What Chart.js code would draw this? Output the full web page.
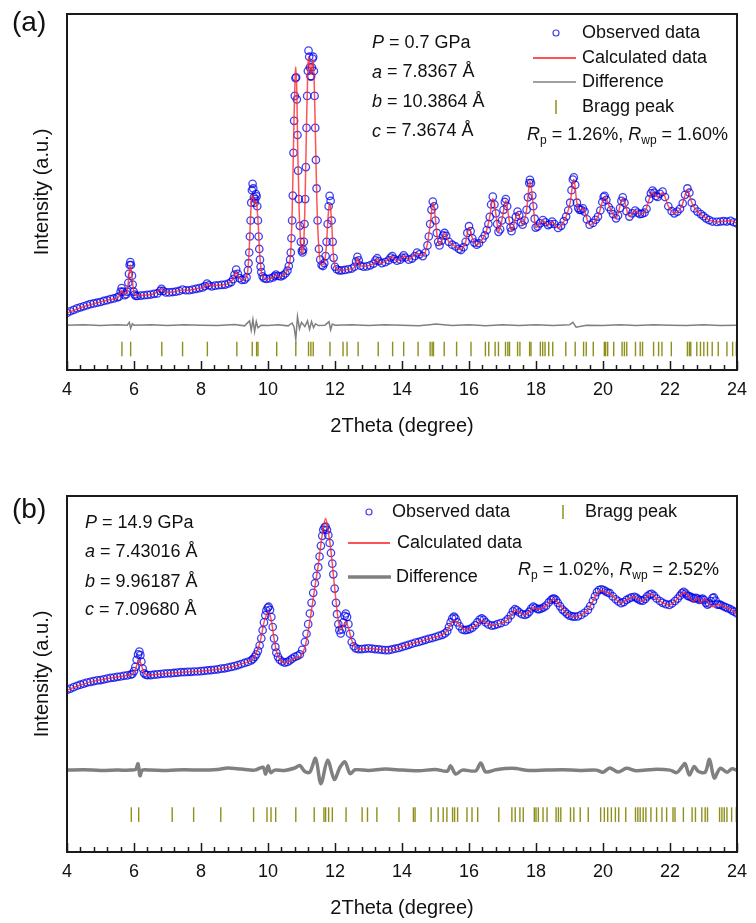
<!DOCTYPE html>
<html>
<head>
<meta charset="utf-8">
<script src="https://cdn.jsdelivr.net/npm/chart.js"></script>
<style>
  body { margin: 0; background: #fff; width: 756px; height: 923px; overflow: hidden; position: relative; }
  .panel { position: absolute; left: 0; width: 756px; height: 441px; }
</style>
</head>
<body>
<div class="panel" style="top:0"><canvas id="graficaA" width="756" height="441"></canvas></div>
<div class="panel" style="top:482px"><canvas id="graficaB" width="756" height="441"></canvas></div>
<script>
// panel (a) P = 0.7 GPa, observed points
const obsThetaA = [
  4.00, 4.10, 4.20, 4.30, 4.40, 4.50, 4.60, 4.70, 4.80, 4.90,
  5.00, 5.10, 5.20, 5.30, 5.40, 5.50, 5.55, 5.60, 5.63, 5.67,
  5.72, 5.77, 5.80, 5.83, 5.85, 5.87, 5.89, 5.91, 5.94, 5.96,
  5.99, 6.02, 6.05, 6.10, 6.20, 6.30, 6.40, 6.50, 6.60, 6.70,
  6.78, 6.82, 6.87, 6.95, 7.05, 7.15, 7.25, 7.35, 7.45, 7.55,
  7.65, 7.75, 7.85, 7.95, 8.05, 8.12, 8.18, 8.24, 8.32, 8.42,
  8.52, 8.62, 8.72, 8.82, 8.90, 8.96, 9.00, 9.05, 9.10, 9.15,
  9.22, 9.30, 9.36, 9.40, 9.42, 9.44, 9.46, 9.48, 9.50, 9.52,
  9.54, 9.56, 9.58, 9.60, 9.62, 9.64, 9.66, 9.68, 9.70, 9.72,
  9.74, 9.76, 9.78, 9.80, 9.84, 9.88, 9.95, 10.05, 10.15, 10.20,
  10.24, 10.30, 10.38, 10.45, 10.52, 10.58, 10.62, 10.66, 10.68, 10.70,
  10.72, 10.74, 10.76, 10.78, 10.80, 10.82, 10.84, 10.86, 10.88, 10.90,
  10.92, 10.95, 10.98, 11.01, 11.03, 11.05, 11.07, 11.09, 11.11, 11.13,
  11.15, 11.17, 11.19, 11.21, 11.23, 11.25, 11.27, 11.29, 11.31, 11.33,
  11.35, 11.37, 11.39, 11.41, 11.43, 11.45, 11.48, 11.52, 11.56, 11.60,
  11.64, 11.68, 11.72, 11.75, 11.78, 11.81, 11.84, 11.87, 11.90, 11.93,
  11.96, 12.00, 12.05, 12.12, 12.20, 12.30, 12.40, 12.50, 12.58, 12.63,
  12.67, 12.71, 12.76, 12.85, 12.95, 13.05, 13.15, 13.21, 13.26, 13.31,
  13.40, 13.50, 13.60, 13.66, 13.71, 13.76, 13.85, 13.95, 14.00, 14.05,
  14.10, 14.20, 14.30, 14.38, 14.45, 14.52, 14.62, 14.70, 14.76, 14.80,
  14.84, 14.88, 14.92, 14.96, 15.00, 15.04, 15.08, 15.12, 15.18, 15.23,
  15.27, 15.32, 15.40, 15.50, 15.60, 15.70, 15.76, 15.84, 15.90, 15.95,
  16.00, 16.05, 16.10, 16.16, 16.23, 16.30, 16.40, 16.47, 16.53, 16.58,
  16.62, 16.66, 16.71, 16.76, 16.80, 16.84, 16.88, 16.93, 16.98, 17.03,
  17.07, 17.10, 17.14, 17.20, 17.24, 17.27, 17.33, 17.40, 17.45, 17.50,
  17.55, 17.60, 17.66, 17.72, 17.76, 17.80, 17.82, 17.85, 17.89, 17.92,
  17.96, 17.99, 18.05, 18.12, 18.21, 18.28, 18.36, 18.42, 18.48, 18.55,
  18.66, 18.75, 18.83, 18.90, 18.96, 19.02, 19.06, 19.10, 19.13, 19.17,
  19.22, 19.26, 19.30, 19.35, 19.40, 19.45, 19.52, 19.60, 19.70, 19.78,
  19.85, 19.92, 19.98, 20.02, 20.05, 20.10, 20.17, 20.24, 20.30, 20.39,
  20.45, 20.51, 20.55, 20.59, 20.64, 20.70, 20.79, 20.87, 20.96, 21.03,
  21.10, 21.17, 21.24, 21.30, 21.38, 21.43, 21.48, 21.53, 21.58, 21.63,
  21.70, 21.78, 21.85, 21.95, 22.05, 22.13, 22.22, 22.30, 22.38, 22.45,
  22.52, 22.58, 22.65, 22.73, 22.82, 22.92, 23.00, 23.08, 23.17, 23.27,
  23.40, 23.50, 23.60, 23.70, 23.81, 23.90, 24.00
];
const obsA = [
  16.0, 16.5, 16.9, 17.3, 17.6, 17.9, 18.2, 18.5, 18.7, 18.9,
  19.1, 19.4, 19.6, 19.9, 20.1, 20.4, 20.6, 22.0, 23.0, 22.0,
  21.0, 21.3, 22.0, 24.5, 27.0, 29.5, 30.3, 29.5, 26.5, 24.0,
  22.0, 21.2, 20.8, 20.8, 20.9, 21.0, 21.1, 21.2, 21.4, 21.5,
  22.2, 22.8, 22.2, 21.8, 21.8, 21.9, 22.0, 22.2, 22.6, 22.4,
  22.4, 22.6, 22.8, 23.0, 23.2, 23.6, 24.3, 23.8, 23.5, 23.7,
  23.8, 23.9, 24.0, 24.3, 24.7, 25.5, 26.8, 28.2, 27.0, 25.8,
  25.3, 25.4, 26.0, 28.0, 30.0, 33.0, 37.5, 42.0, 47.0, 50.5,
  52.3, 51.0, 48.5, 47.0, 48.0, 49.4, 48.8, 46.0, 42.0, 37.5,
  34.0, 31.0, 29.0, 27.5, 26.3, 25.8, 25.6, 25.7, 26.0, 26.4,
  26.8, 26.4, 26.3, 26.6, 27.1, 27.9, 29.2, 31.0, 33.0, 37.0,
  42.0, 49.0, 61.0, 70.0, 77.0, 82.0, 82.2, 76.0, 66.0, 56.0,
  48.0, 40.5, 36.0, 33.5, 33.0, 33.8, 36.0, 41.0, 48.0, 57.0,
  68.0, 77.0, 84.0, 89.7, 88.0, 85.0, 82.5, 82.5, 85.0, 87.5,
  88.0, 84.0, 77.0, 68.0, 59.0, 51.0, 42.0, 34.0, 31.0, 29.5,
  29.2, 30.0, 32.0, 36.0, 41.0, 46.0, 48.9, 47.5, 42.0, 36.0,
  31.5, 29.0, 28.3, 28.0, 28.0, 28.1, 28.3, 28.5, 29.0, 30.5,
  31.8, 30.8, 29.3, 29.0, 29.1, 29.4, 29.9, 30.8, 31.4, 30.6,
  30.0, 30.3, 30.8, 31.6, 32.0, 31.2, 30.7, 31.0, 31.6, 32.2,
  31.6, 31.0, 31.3, 32.0, 33.0, 32.5, 32.0, 33.0, 35.0, 37.5,
  41.0, 45.0, 47.3, 46.0, 42.0, 38.5, 36.0, 35.0, 36.3, 37.8,
  38.5, 37.7, 36.0, 35.2, 34.7, 34.0, 33.7, 34.5, 36.0, 38.5,
  40.4, 39.0, 37.0, 35.8, 35.2, 35.6, 36.8, 37.8, 39.3, 41.0,
  43.0, 46.5, 48.7, 46.5, 44.0, 41.0, 38.8, 39.5, 42.0, 45.0,
  47.2, 48.0, 46.0, 42.0, 40.0, 39.0, 40.5, 43.0, 44.5, 43.5,
  41.5, 40.8, 42.0, 45.0, 48.5, 52.5, 53.4, 52.5, 49.0, 46.0,
  42.5, 40.0, 40.3, 41.2, 42.1, 41.5, 40.7, 41.0, 41.7, 41.0,
  39.9, 40.5, 41.8, 43.1, 44.8, 47.0, 50.5, 53.5, 54.1, 52.0,
  47.0, 45.5, 45.0, 45.0, 45.4, 44.5, 42.3, 40.8, 41.3, 42.2,
  43.1, 44.8, 47.2, 48.6, 48.9, 47.8, 45.8, 44.9, 43.8, 42.6,
  43.4, 45.5, 47.5, 48.5, 47.0, 44.6, 43.1, 44.0, 44.8, 44.2,
  43.8, 43.9, 44.2, 45.3, 48.0, 49.6, 50.4, 49.8, 48.9, 48.6,
  49.5, 50.1, 48.6, 46.0, 44.6, 44.0, 44.5, 45.3, 46.8, 49.2,
  51.0, 49.8, 47.0, 45.4, 44.5, 43.8, 43.2, 42.6, 42.1, 41.7,
  41.6, 41.7, 41.8, 41.7, 41.9, 41.5, 41.2
];
// panel (a) calculated profile
const calcThetaA = [
  4.00, 4.20, 4.40, 4.60, 4.80, 5.00, 5.20, 5.40, 5.55, 5.63,
  5.72, 5.80, 5.85, 5.89, 5.94, 5.99, 6.05, 6.30, 6.60, 6.82,
  6.95, 7.20, 7.45, 7.60, 7.90, 8.10, 8.18, 8.27, 8.50, 8.80,
  8.98, 9.05, 9.13, 9.25, 9.38, 9.44, 9.48, 9.52, 9.56, 9.60,
  9.64, 9.67, 9.71, 9.75, 9.80, 9.88, 10.00, 10.15, 10.24, 10.35,
  10.50, 10.60, 10.68, 10.72, 10.75, 10.78, 10.81, 10.83, 10.86, 10.89,
  10.93, 10.98, 11.03, 11.07, 11.11, 11.15, 11.19, 11.21, 11.25, 11.28,
  11.32, 11.35, 11.38, 11.42, 11.46, 11.52, 11.60, 11.67, 11.74, 11.79,
  11.83, 11.86, 11.90, 11.95, 12.02, 12.15, 12.40, 12.60, 12.67, 12.75,
  13.00, 13.20, 13.26, 13.35, 13.55, 13.70, 13.80, 13.95, 14.05, 14.20,
  14.45, 14.62, 14.75, 14.85, 14.92, 14.98, 15.05, 15.12, 15.27, 15.40,
  15.55, 15.75, 15.90, 16.00, 16.10, 16.23, 16.40, 16.50, 16.62, 16.71,
  16.80, 16.88, 16.98, 17.10, 17.20, 17.27, 17.45, 17.60, 17.72, 17.82,
  17.92, 17.99, 18.21, 18.36, 18.48, 18.66, 18.90, 19.02, 19.13, 19.22,
  19.30, 19.40, 19.60, 19.85, 20.05, 20.24, 20.39, 20.59, 20.79, 20.96,
  21.10, 21.24, 21.38, 21.48, 21.63, 21.78, 21.95, 22.13, 22.35, 22.52,
  22.65, 22.82, 23.00, 23.17, 23.40, 23.60, 23.81, 24.00
];
const calcA = [
  16.0, 16.8, 17.5, 18.1, 18.6, 19.1, 19.6, 20.0, 20.6, 22.4,
  21.2, 22.3, 26.5, 29.5, 26.2, 22.2, 20.9, 21.0, 21.4, 22.6,
  21.8, 22.0, 22.5, 22.4, 22.9, 23.3, 24.2, 23.6, 23.8, 24.2,
  25.8, 27.6, 26.0, 25.2, 26.8, 34.0, 43.0, 49.0, 48.5, 46.5,
  47.5, 46.0, 40.5, 33.0, 27.8, 25.8, 25.6, 26.0, 26.6, 26.2,
  27.0, 28.6, 33.5, 44.0, 57.0, 72.0, 82.5, 85.2, 78.0, 61.0,
  45.0, 35.5, 32.5, 36.5, 49.0, 69.0, 85.0, 88.0, 85.5, 83.0,
  86.0, 87.0, 80.5, 64.0, 47.0, 34.0, 29.5, 29.8, 34.5, 42.5,
  46.5, 46.0, 41.5, 32.5, 28.6, 28.0, 28.3, 29.0, 31.4, 29.2,
  29.3, 30.3, 31.2, 30.0, 30.7, 31.8, 30.8, 31.0, 32.0, 31.0,
  32.8, 32.0, 35.0, 41.5, 47.0, 44.0, 37.5, 35.0, 38.2, 36.0,
  35.0, 33.8, 36.0, 40.0, 37.0, 35.2, 36.8, 38.5, 43.0, 48.2,
  44.0, 38.8, 42.0, 47.6, 42.0, 39.0, 44.2, 40.8, 45.0, 53.0,
  46.0, 40.0, 42.0, 40.7, 41.5, 39.9, 43.1, 47.0, 53.6, 47.0,
  45.0, 45.4, 40.8, 43.1, 48.5, 44.9, 42.6, 48.2, 43.1, 44.8,
  43.8, 44.2, 48.0, 50.0, 48.6, 49.8, 46.0, 44.0, 46.0, 50.6,
  47.0, 44.5, 43.2, 42.1, 41.6, 41.8, 41.9, 41.2
];
const diffThetaA = [
  4.0, 4.5, 5.0, 5.5, 5.8, 5.86, 5.9, 5.95, 6.0, 6.5,
  7.0, 7.5, 8.0, 8.5, 9.0, 9.3, 9.45, 9.5, 9.55, 9.6,
  9.65, 9.7, 9.8, 10.0, 10.3, 10.6, 10.72, 10.78, 10.83, 10.88,
  10.94, 11.0, 11.1, 11.18, 11.24, 11.3, 11.36, 11.42, 11.5, 11.7,
  11.82, 11.87, 11.92, 12.0, 12.5, 13.0, 13.5, 14.0, 14.5, 14.9,
  15.0, 15.5, 16.0, 16.5, 17.0, 17.5, 18.0, 18.5, 19.0, 19.1,
  19.2, 19.5, 20.0, 20.5, 21.0, 21.5, 22.0, 22.5, 23.0, 23.5, 24.0
];
const diffA = [
  12.6, 12.7, 12.5, 12.7, 12.6, 13.4, 11.7, 13.0, 12.6, 12.7,
  12.5, 12.7, 12.6, 12.5, 12.8, 12.4, 13.8, 11.2, 14.2, 10.8,
  13.6, 11.9, 12.6, 12.5, 12.7, 12.4, 13.2, 12.0, 8.6, 15.0,
  11.6, 13.4, 12.2, 13.8, 11.4, 13.6, 11.9, 13.0, 12.5, 12.6,
  13.6, 11.3, 12.9, 12.6, 12.7, 12.5, 12.7, 12.6, 12.4, 12.8,
  12.9, 12.5, 12.7, 12.4, 12.7, 12.5, 12.7, 12.5, 12.7, 13.4,
  12.0, 12.6, 12.5, 12.7, 12.5, 12.7, 12.6, 12.5, 12.7, 12.5, 12.6
];
const braggA = [
  5.64, 5.90, 6.83, 7.45, 8.19, 9.07, 9.53, 9.66, 9.70, 10.26,
  10.83, 11.21, 11.28, 11.35, 11.85, 12.24, 12.36, 12.69, 13.29, 13.72,
  14.05, 14.48, 14.84, 14.90, 14.94, 15.26, 15.63, 16.06, 16.49, 16.59,
  16.78, 16.88, 17.09, 17.16, 17.21, 17.45, 17.52, 17.81, 17.85, 18.13,
  18.20, 18.27, 18.38, 18.50, 18.89, 19.17, 19.42, 19.50, 19.71, 20.04,
  20.08, 20.14, 20.32, 20.57, 20.64, 20.71, 20.97, 21.11, 21.18, 21.51,
  21.66, 21.76, 22.04, 22.52, 22.58, 22.62, 22.80, 22.91, 23.01, 23.12,
  23.26, 23.44, 23.70, 23.87, 23.98
];

// panel (b) P = 14.9 GPa, observed points
const obsThetaB = [
  4.00, 4.10, 4.20, 4.30, 4.40, 4.50, 4.60, 4.70, 4.80, 4.90,
  5.00, 5.10, 5.20, 5.30, 5.40, 5.50, 5.60, 5.70, 5.80, 5.90,
  5.95, 6.00, 6.04, 6.08, 6.12, 6.16, 6.19, 6.22, 6.26, 6.30,
  6.35, 6.40, 6.50, 6.60, 6.70, 6.80, 6.90, 7.00, 7.10, 7.20,
  7.30, 7.40, 7.50, 7.60, 7.70, 7.80, 7.90, 8.00, 8.10, 8.20,
  8.30, 8.40, 8.50, 8.60, 8.70, 8.80, 8.90, 9.00, 9.10, 9.20,
  9.30, 9.40, 9.50, 9.55, 9.60, 9.65, 9.70, 9.75, 9.80, 9.84,
  9.88, 9.92, 9.95, 9.99, 10.02, 10.06, 10.10, 10.14, 10.18, 10.22,
  10.25, 10.30, 10.35, 10.42, 10.50, 10.58, 10.65, 10.72, 10.80, 10.88,
  10.95, 11.02, 11.10, 11.15, 11.20, 11.25, 11.30, 11.35, 11.40, 11.45,
  11.50, 11.54, 11.58, 11.62, 11.65, 11.69, 11.72, 11.76, 11.80, 11.84,
  11.88, 11.92, 11.95, 11.99, 12.03, 12.06, 12.10, 12.13, 12.17, 12.21,
  12.25, 12.29, 12.32, 12.36, 12.40, 12.45, 12.50, 12.56, 12.62, 12.70,
  12.80, 12.90, 13.00, 13.10, 13.20, 13.30, 13.40, 13.50, 13.60, 13.70,
  13.80, 13.90, 14.00, 14.10, 14.20, 14.30, 14.40, 14.50, 14.60, 14.70,
  14.80, 14.90, 15.00, 15.10, 15.20, 15.28, 15.35, 15.40, 15.45, 15.50,
  15.55, 15.60, 15.65, 15.72, 15.80, 15.87, 15.94, 16.02, 16.10, 16.18,
  16.25, 16.32, 16.38, 16.44, 16.50, 16.58, 16.68, 16.76, 16.85, 16.95,
  17.08, 17.16, 17.25, 17.31, 17.37, 17.43, 17.50, 17.58, 17.67, 17.74,
  17.80, 17.86, 17.92, 17.98, 18.05, 18.10, 18.16, 18.23, 18.30, 18.38,
  18.45, 18.50, 18.54, 18.60, 18.65, 18.72, 18.79, 18.86, 18.93, 19.00,
  19.08, 19.15, 19.25, 19.35, 19.45, 19.55, 19.62, 19.70, 19.76, 19.82,
  19.88, 19.95, 20.02, 20.08, 20.14, 20.20, 20.29, 20.38, 20.46, 20.54,
  20.62, 20.70, 20.78, 20.85, 20.94, 21.00, 21.05, 21.12, 21.19, 21.26,
  21.32, 21.39, 21.45, 21.52, 21.60, 21.70, 21.78, 21.88, 21.98, 22.06,
  22.15, 22.23, 22.30, 22.36, 22.41, 22.47, 22.52, 22.57, 22.62, 22.67,
  22.72, 22.77, 22.82, 22.87, 22.92, 22.97, 23.02, 23.07, 23.12, 23.17,
  23.22, 23.27, 23.31, 23.36, 23.42, 23.47, 23.51, 23.58, 23.65, 23.72,
  23.80, 23.86, 23.92, 24.00
];
const obsB = [
  45.5, 45.9, 46.3, 46.7, 47.0, 47.3, 47.6, 47.8, 48.0, 48.2,
  48.3, 48.5, 48.7, 48.9, 49.0, 49.2, 49.3, 49.5, 49.6, 49.8,
  50.0, 50.8, 52.0, 54.0, 55.5, 56.3, 55.3, 53.5, 51.5, 50.2,
  49.8, 49.7, 49.7, 49.8, 49.9, 50.0, 50.1, 50.2, 50.2, 50.3,
  50.4, 50.5, 50.5, 50.6, 50.6, 50.7, 50.7, 50.8, 50.9, 51.0,
  51.1, 51.2, 51.3, 51.5, 51.6, 51.8, 52.0, 52.2, 52.5, 52.8,
  53.1, 53.4, 53.8, 54.2, 54.8, 55.5, 56.5, 58.0, 60.0, 62.3,
  64.5, 66.5, 67.8, 68.6, 68.9, 68.0, 66.0, 63.2, 60.0, 57.6,
  56.0, 54.8, 54.0, 53.5, 53.2, 53.4, 53.8, 54.3, 54.8, 55.1,
  55.5, 56.8, 59.0, 61.3, 64.0, 67.0, 70.0, 72.8, 75.5, 77.6,
  80.0, 83.0, 86.0, 88.8, 90.5, 91.2, 91.4, 90.5, 89.0, 86.8,
  84.0, 81.0, 78.0, 74.0, 70.0, 66.8, 64.0, 62.3, 61.4, 62.5,
  64.5, 66.3, 67.0, 66.0, 64.0, 61.3, 59.0, 57.8, 57.2, 57.0,
  57.0, 57.1, 57.2, 57.1, 57.0, 56.9, 56.8, 56.7, 56.7, 56.9,
  57.1, 57.3, 57.6, 57.9, 58.2, 58.5, 58.8, 59.0, 59.3, 59.6,
  59.9, 60.1, 60.4, 60.7, 61.0, 61.4, 62.0, 63.2, 64.5, 65.6,
  66.1, 65.6, 64.5, 63.4, 62.5, 62.3, 62.4, 62.6, 63.0, 63.7,
  64.5, 65.3, 65.6, 65.2, 64.5, 63.9, 63.6, 63.7, 64.0, 64.3,
  64.7, 65.4, 66.5, 67.6, 68.2, 67.9, 67.3, 66.8, 66.6, 66.9,
  67.5, 68.4, 68.9, 68.6, 68.2, 68.2, 68.4, 68.7, 69.2, 70.1,
  70.8, 71.1, 71.2, 70.8, 70.0, 69.0, 68.1, 67.5, 66.9, 66.4,
  66.2, 66.1, 66.2, 66.6, 67.2, 68.0, 69.1, 70.5, 71.8, 73.0,
  73.6, 73.8, 73.6, 73.2, 72.9, 72.7, 71.8, 71.0, 70.4, 69.9,
  70.2, 70.8, 71.2, 71.5, 71.7, 71.4, 71.0, 70.7, 70.6, 71.1,
  71.8, 72.3, 72.5, 72.0, 71.2, 70.5, 70.0, 69.6, 69.4, 69.8,
  70.5, 71.2, 72.0, 72.7, 73.1, 72.6, 72.0, 71.8, 71.7, 71.4,
  71.2, 71.4, 71.2, 70.8, 71.0, 71.2, 70.8, 70.0, 69.5, 69.8,
  70.5, 71.3, 71.5, 70.6, 69.5, 69.5, 69.4, 69.1, 68.8, 68.5,
  68.2, 67.8, 67.5, 67.0
];
// panel (b) calculated profile
const calcThetaB = [
  4.00, 4.20, 4.40, 4.60, 4.80, 5.00, 5.20, 5.40, 5.60, 5.80,
  5.95, 6.05, 6.12, 6.16, 6.22, 6.30, 6.40, 6.60, 6.80, 7.00,
  7.20, 7.40, 7.60, 7.80, 8.00, 8.20, 8.40, 8.60, 8.80, 9.00,
  9.20, 9.40, 9.55, 9.70, 9.80, 9.88, 9.95, 10.02, 10.10, 10.18,
  10.25, 10.35, 10.50, 10.65, 10.80, 10.95, 11.10, 11.20, 11.30, 11.40,
  11.50, 11.58, 11.65, 11.72, 11.80, 11.88, 11.95, 12.03, 12.10, 12.17,
  12.25, 12.32, 12.40, 12.50, 12.62, 12.80, 13.00, 13.20, 13.40, 13.60,
  13.80, 14.00, 14.20, 14.40, 14.60, 14.80, 15.00, 15.20, 15.35, 15.45,
  15.55, 15.65, 15.80, 15.94, 16.10, 16.25, 16.38, 16.50, 16.68, 16.85,
  17.08, 17.25, 17.37, 17.50, 17.67, 17.80, 17.92, 18.05, 18.16, 18.30,
  18.45, 18.54, 18.65, 18.86, 19.00, 19.15, 19.35, 19.55, 19.70, 19.82,
  19.95, 20.08, 20.20, 20.38, 20.54, 20.70, 20.85, 20.94, 21.05, 21.19,
  21.32, 21.45, 21.60, 21.78, 21.98, 22.15, 22.30, 22.41, 22.52, 22.62,
  22.72, 22.82, 22.92, 23.02, 23.12, 23.22, 23.31, 23.42, 23.51, 23.65,
  23.80, 23.92, 24.00
];
const calcB = [
  45.4, 46.2, 46.9, 47.5, 48.0, 48.4, 48.7, 49.0, 49.3, 49.6,
  50.0, 51.5, 53.5, 54.0, 52.5, 50.4, 49.8, 49.8, 50.0, 50.2,
  50.3, 50.5, 50.6, 50.7, 50.8, 51.0, 51.2, 51.5, 51.8, 52.2,
  52.8, 53.4, 54.3, 57.0, 60.5, 64.5, 66.5, 67.5, 65.0, 60.0,
  56.5, 54.2, 53.2, 53.6, 54.4, 54.8, 57.5, 62.0, 68.0, 74.5,
  80.5, 86.5, 91.0, 93.7, 90.0, 84.5, 78.0, 70.5, 65.0, 62.5,
  63.5, 64.7, 63.0, 59.5, 57.4, 57.0, 57.2, 57.0, 56.8, 56.7,
  57.1, 57.6, 58.2, 58.8, 59.3, 59.9, 60.4, 61.0, 62.2, 64.0,
  65.0, 64.5, 62.8, 62.4, 63.0, 64.0, 64.8, 64.5, 63.6, 64.0,
  64.7, 66.3, 68.0, 67.3, 66.6, 67.5, 68.6, 68.2, 68.4, 69.2,
  70.6, 71.0, 70.0, 67.5, 66.4, 66.1, 66.6, 68.0, 70.5, 72.6,
  73.4, 73.0, 72.7, 71.0, 69.9, 70.8, 71.5, 71.6, 71.0, 70.6,
  71.8, 72.4, 71.2, 70.0, 69.4, 70.5, 72.0, 73.0, 72.2, 71.0,
  70.5, 71.5, 70.0, 71.0, 70.5, 69.0, 68.9, 69.5, 69.4, 68.8,
  68.2, 67.5, 67.0
];
const diffThetaB = [
  4.0, 4.5, 5.0, 5.5, 5.9, 6.05, 6.12, 6.18, 6.25, 6.5,
  7.0, 7.5, 8.0, 8.5, 8.8, 9.2, 9.6, 9.85, 9.93, 10.0,
  10.08, 10.2, 10.5, 10.8, 10.95, 11.1, 11.25, 11.42, 11.58, 11.78,
  11.98, 12.15, 12.3, 12.45, 12.6, 13.0, 13.5, 14.0, 14.5, 15.0,
  15.35, 15.45, 15.6, 15.8, 16.2, 16.35, 16.5, 16.8, 17.3, 17.8,
  18.3, 18.8, 19.3, 19.8, 20.0, 20.2, 20.45, 20.7, 21.0, 21.5,
  22.0, 22.2, 22.35, 22.45, 22.58, 22.72, 22.85, 23.05, 23.18, 23.32,
  23.5, 23.7, 23.85, 24.0
];
const diffB = [
  23.0, 23.1, 22.9, 23.0, 23.0, 23.2, 24.8, 21.4, 23.0, 23.0,
  22.9, 23.1, 23.0, 23.2, 23.6, 23.3, 23.0, 23.8, 21.9, 24.2,
  22.3, 23.0, 22.9, 23.6, 24.3, 22.6, 22.4, 26.3, 19.2, 25.8,
  20.4, 23.8, 25.3, 22.0, 23.1, 22.9, 23.3, 23.0, 22.8, 23.2,
  22.7, 24.2, 21.9, 23.0, 22.8, 25.0, 22.5, 23.1, 23.5, 22.9,
  23.0, 23.1, 22.9, 23.0, 22.4, 23.6, 22.5, 23.5, 22.8, 23.2,
  23.0, 22.3, 23.8, 24.8, 21.6, 24.0, 22.6, 22.4, 26.0, 20.8,
  23.5, 22.4, 23.4, 22.9
];
const braggB = [
  5.92, 6.14, 7.14, 7.78, 8.59, 9.57, 9.97, 10.09, 10.23, 10.83,
  11.38, 11.67, 11.72, 11.81, 11.92, 12.33, 12.81, 12.97, 13.25, 13.91,
  14.34, 14.39, 14.87, 15.08, 15.23, 15.34, 15.51, 15.57, 15.66, 15.94,
  16.09, 16.26, 16.89, 17.28, 17.38, 17.52, 17.62, 17.95, 18.00, 18.07,
  18.21, 18.33, 18.60, 18.67, 18.74, 19.03, 19.13, 19.32, 19.56, 19.93,
  20.04, 20.14, 20.25, 20.37, 20.47, 20.68, 20.97, 21.04, 21.11, 21.20,
  21.28, 21.43, 21.60, 21.76, 21.90, 22.09, 22.15, 22.40, 22.66, 22.76,
  22.95, 23.05, 23.12, 23.48, 23.55, 23.62, 23.70, 23.84, 23.98
];

const xTicks = [4, 6, 8, 10, 12, 14, 16, 18, 20, 22, 24];

const FONT = '"Liberation Sans", Arial, sans-serif';
const TXT = '#111';
const BLUE = 'rgba(0, 0, 235, 0.75)';
const RED = 'rgba(255, 40, 40, 0.8)';
const GREY = '#808080';
const OLIVE = '#8f8f1c';

Chart.defaults.font.family = FONT;
Chart.defaults.color = TXT;

const pts = (xs, ys) => xs.map((x, i) => ({ x: x, y: ys[i] }));

function richText(ctx, x, y, parts) {
    let cx = x;
    parts.forEach(([t, s]) => {
        ctx.font = s === 'i' ? 'italic 18px ' + FONT : s === 's' ? '12px ' + FONT : '18px ' + FONT;
        ctx.fillText(t, cx, s === 's' ? y + 6 : y);
        cx += ctx.measureText(t).width;
    });
}

// frame, inward ticks and the text inside the plot
function decorations(p) {
    return {
        id: 'decor' + p.name,
        afterDatasetsDraw(chart) {
            const ctx = chart.ctx;
            const a = chart.chartArea;
            const xs = chart.scales.x;
            ctx.save();
            ctx.strokeStyle = '#1a1a1a';
            ctx.lineWidth = 2;
            ctx.strokeRect(a.left, a.top, a.right - a.left, a.bottom - a.top);
            ctx.lineWidth = 1.5;
            for (let i = 0; i <= 50; i++) {
                const px = Math.round(xs.getPixelForValue(4 + i * 0.4)) + 0.5;
                const len = i % 5 === 0 ? 9 : 5;
                ctx.beginPath();
                ctx.moveTo(px, a.bottom);
                ctx.lineTo(px, a.bottom - len);
                ctx.stroke();
            }

            ctx.fillStyle = TXT;
            ctx.textBaseline = 'middle';
            ctx.textAlign = 'left';
            ctx.font = '28px ' + FONT;
            ctx.fillText(p.name, 12, p.labelY);

            p.cell.forEach((row, i) => richText(ctx, p.cellX, p.cellY[i], row));

            const L = p.legend;
            ctx.strokeStyle = BLUE;
            ctx.lineWidth = 1.2;
            ctx.beginPath();
            ctx.arc(L.obs[0], L.obs[1], 3, 0, Math.PI * 2);
            ctx.stroke();
            ctx.strokeStyle = RED;
            ctx.lineWidth = 2;
            ctx.beginPath();
            ctx.moveTo(L.calc[0], L.calc[2]);
            ctx.lineTo(L.calc[1], L.calc[2]);
            ctx.stroke();
            ctx.strokeStyle = GREY;
            ctx.lineWidth = p.diffWidth;
            ctx.beginPath();
            ctx.moveTo(L.diff[0], L.diff[2]);
            ctx.lineTo(L.diff[1], L.diff[2]);
            ctx.stroke();
            ctx.strokeStyle = OLIVE;
            ctx.lineWidth = 1.5;
            ctx.beginPath();
            ctx.moveTo(L.bragg[0], L.bragg[1] - 7);
            ctx.lineTo(L.bragg[0], L.bragg[1] + 7);
            ctx.stroke();
            ctx.font = '18px ' + FONT;
            L.texts.forEach(([t, x, y]) => ctx.fillText(t, x, y));
            richText(ctx, L.r[0], L.r[1], [
                ['R', 'i'], ['p', 's'], [' = ' + p.rp + '%, ', 'n'],
                ['R', 'i'], ['wp', 's'], [' = ' + p.rwp + '%', 'n']
            ]);
            ctx.restore();
        }
    };
}

function makeChart(id, p) {
    new Chart(document.getElementById(id), {
        type: 'scatter',
        data: {
            datasets: [
                {
                    label: 'Calculated data',
                    data: pts(p.calcTheta, p.calc),
                    showLine: true,
                    borderColor: RED,
                    borderWidth: 1.5,
                    cubicInterpolationMode: 'monotone',
                    pointRadius: 0,
                    order: 0
                },
                {
                    label: 'Observed data',
                    data: pts(p.obsTheta, p.obs),
                    showLine: false,
                    pointStyle: 'circle',
                    pointRadius: 3.7,
                    pointBorderWidth: 1.3,
                    pointBorderColor: BLUE,
                    pointBackgroundColor: 'rgba(0,0,0,0)',
                    order: 1
                },
                {
                    label: 'Difference',
                    data: pts(p.diffTheta, p.diff),
                    showLine: true,
                    borderColor: GREY,
                    borderWidth: p.diffWidth,
                    tension: p.diffTension,
                    pointRadius: 0,
                    order: 2
                },
                {
                    label: 'Bragg peak',
                    data: p.bragg.map(x => ({ x: x, y: p.braggLevel })),
                    showLine: false,
                    pointStyle: 'line',
                    rotation: 90,
                    pointRadius: 7.3,
                    pointBorderWidth: 1.4,
                    pointBorderColor: OLIVE,
                    order: 3
                }
            ]
        },
        options: {
            responsive: false,
            animation: false,
            events: [],
            layout: { padding: { left: 0, right: 16, top: 14, bottom: 0 } },
            plugins: { legend: { display: false }, tooltip: { enabled: false } },
            scales: {
                x: {
                    type: 'linear',
                    min: 4,
                    max: 24,
                    afterFit(scale) { scale.height = 71; },
                    afterBuildTicks(scale) { scale.ticks = xTicks.map(v => ({ value: v })); },
                    grid: { display: false, drawTicks: false },
                    border: { display: false },
                    ticks: { font: { size: 18 }, color: TXT, padding: 9, maxRotation: 0, autoSkip: false },
                    title: { display: true, text: '2Theta (degree)', font: { size: 20 }, color: TXT, padding: { top: 4, bottom: 3 } }
                },
                y: {
                    min: 0,
                    max: 100,
                    afterFit(scale) { scale.width = 67; },
                    grid: { display: false },
                    border: { display: false },
                    ticks: { display: false },
                    title: { display: true, text: 'Intensity (a.u.)', font: { size: 20 }, color: TXT, padding: { top: 30, bottom: 0 } }
                }
            }
        },
        plugins: [decorations(p)]
    });
}

makeChart('graficaA', {
    name: '(a)', labelY: 23,
    obsTheta: obsThetaA, obs: obsA, calcTheta: calcThetaA, calc: calcA,
    diffTheta: diffThetaA, diff: diffA, diffWidth: 1.5, diffTension: 0,
    bragg: braggA, braggLevel: 5.9,
    rp: '1.26', rwp: '1.60',
    cellX: 372, cellY: [43, 72.5, 102, 131.5],
    cell: [
        [['P', 'i'], [' = 0.7 GPa', 'n']],
        [['a', 'i'], [' = 7.8367 Å', 'n']],
        [['b', 'i'], [' = 10.3864 Å', 'n']],
        [['c', 'i'], [' = 7.3674 Å', 'n']]
    ],
    legend: {
        obs: [556, 33], calc: [533, 576, 58], diff: [533, 576, 82], bragg: [556, 107],
        texts: [['Observed data', 582, 33], ['Calculated data', 582, 58], ['Difference', 582, 82], ['Bragg peak', 582, 107]],
        r: [527, 135]
    }
});

makeChart('graficaB', {
    name: '(b)', labelY: 28,
    obsTheta: obsThetaB, obs: obsB, calcTheta: calcThetaB, calc: calcB,
    diffTheta: diffThetaB, diff: diffB, diffWidth: 3.5, diffTension: 0.3,
    bragg: braggB, braggLevel: 10.5,
    rp: '1.02', rwp: '2.52',
    cellX: 85, cellY: [41, 70, 100, 128],
    cell: [
        [['P', 'i'], [' = 14.9 GPa', 'n']],
        [['a', 'i'], [' = 7.43016 Å', 'n']],
        [['b', 'i'], [' = 9.96187 Å', 'n']],
        [['c', 'i'], [' = 7.09680 Å', 'n']]
    ],
    legend: {
        obs: [369, 30], calc: [348, 390, 61], diff: [348, 391, 95], bragg: [563, 30],
        texts: [['Observed data', 392, 30], ['Calculated data', 397, 61], ['Difference', 396, 95], ['Bragg peak', 585, 30]],
        r: [518, 88]
    }
});
</script>
</body>
</html>
